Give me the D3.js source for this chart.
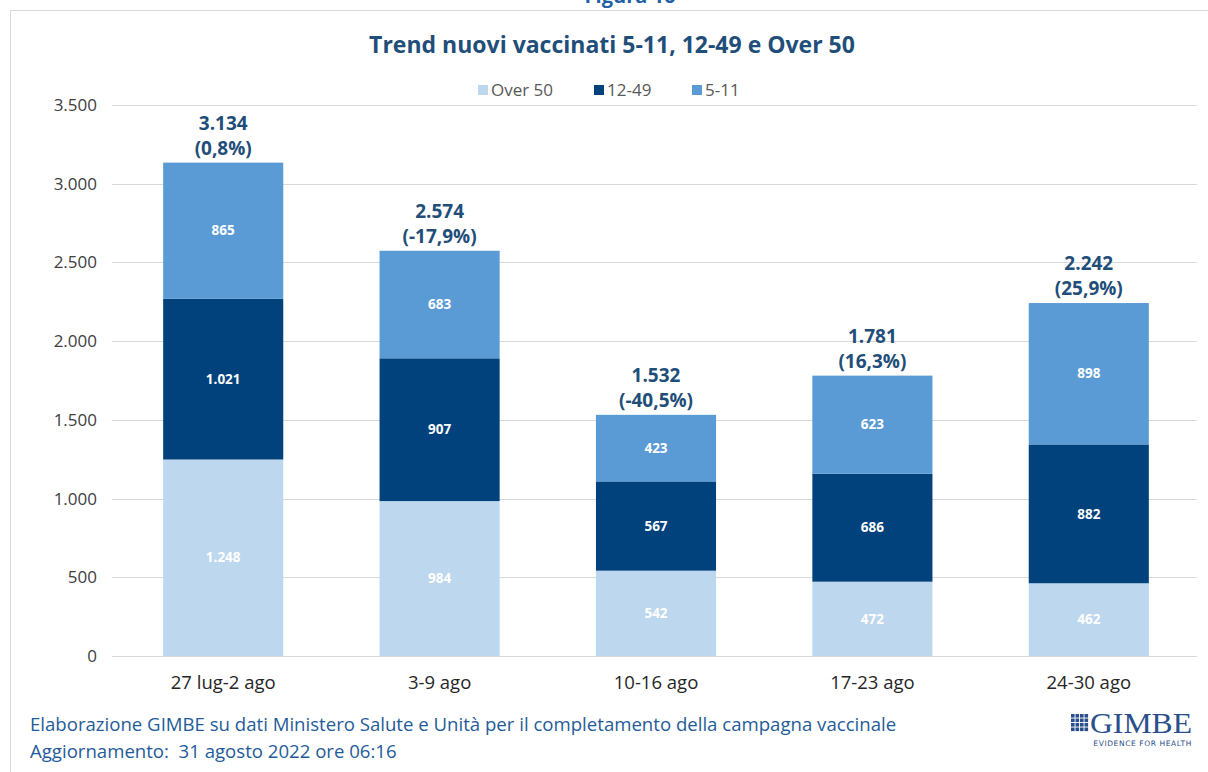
<!DOCTYPE html>
<html>
<head>
<meta charset="utf-8">
<script src="https://cdn.jsdelivr.net/npm/d3@7"></script>
<style>
  body { margin: 0; background: #fff; }
  svg { display: block; }
</style>
</head>
<body>
<svg id="chart" width="1208" height="772"></svg>
<script>
var weeks = ["27 lug-2 ago", "3-9 ago", "10-16 ago", "17-23 ago", "24-30 ago"];
var over50 = [1248, 984, 542, 472, 462];
var age1249 = [1021, 907, 567, 686, 882];
var age511 = [865, 683, 423, 623, 898];
var totals = [3134, 2574, 1532, 1781, 2242];
var changes = ["(0,8%)", "(-17,9%)", "(-40,5%)", "(16,3%)", "(25,9%)"];
var seriesNames = ["Over 50", "12-49", "5-11"];
var yTicks = [0, 500, 1000, 1500, 2000, 2500, 3000, 3500];

var colors = {"Over 50": "#bdd7ee", "12-49": "#02427c", "5-11": "#5b9bd5"};
var fmt = d3.formatLocale({decimal: ",", thousands: ".", grouping: [3], currency: ["", "€"]}).format(",d");

var svg = d3.select("#chart");
var margin = {top: 105, right: 11, bottom: 116, left: 115};
var width = 1208 - margin.left - margin.right;
var height = 772 - margin.top - margin.bottom;

// frame of the slide
svg.append("line").attr("x1", 10).attr("x2", 1208).attr("y1", 10.5).attr("y2", 10.5)
  .attr("stroke", "#d9d9d9");
svg.append("line").attr("x1", 10.5).attr("x2", 10.5).attr("y1", 10).attr("y2", 772)
  .attr("stroke", "#d9d9d9");

svg.append("text").attr("x", 630).attr("y", 3).attr("text-anchor", "middle")
  .style("font-family", "Open Sans").style("font-weight", "bold").style("font-size", "20px")
  .style("fill", "#1f5fa5").text("Figura 16");

svg.append("text").attr("x", 612).attr("y", 53).attr("text-anchor", "middle")
  .style("font-family", "Open Sans").style("font-weight", "bold").style("font-size", "23px")
  .style("fill", "#1f4e79").text("Trend nuovi vaccinati 5-11, 12-49 e Over 50");

var rows = weeks.map(function(w, i) {
  return {week: w, "Over 50": over50[i], "12-49": age1249[i], "5-11": age511[i], total: totals[i], change: changes[i]};
});

var x = d3.scaleBand().domain(weeks).range([0, width]).paddingInner(0.445).paddingOuter(0.2225);
var y = d3.scaleLinear().domain([0, 3500]).range([height, 0]);

var g = svg.append("g").attr("transform", "translate(" + margin.left + "," + margin.top + ")");

// gridlines
g.append("g").selectAll("line").data(yTicks).enter().append("line")
  .attr("x1", -3).attr("x2", width)
  .attr("y1", d => Math.round(y(d)) + 0.5).attr("y2", d => Math.round(y(d)) + 0.5)
  .attr("stroke", "#d9d9d9").attr("stroke-width", 1);

var yAxis = d3.axisLeft(y).tickValues(yTicks).tickFormat(fmt).tickSize(0).tickPadding(18);
g.append("g").call(yAxis)
  .call(a => a.select(".domain").remove())
  .selectAll("text")
  .style("font-family", "Open Sans").style("font-size", "17px").style("fill", "#404040");

var xAxis = d3.axisBottom(x).tickSize(0).tickPadding(20);
g.append("g").attr("transform", "translate(0," + height + ")").call(xAxis)
  .call(a => a.select(".domain").remove())
  .selectAll("text")
  .style("font-family", "Open Sans").style("font-size", "18.5px").style("fill", "#262626");

var stack = d3.stack().keys(seriesNames);
var layers = stack(rows);

var layerG = g.selectAll(".layer").data(layers).enter().append("g")
  .attr("class", "layer").attr("fill", d => colors[d.key]);

layerG.selectAll("rect").data(d => d).enter().append("rect")
  .attr("x", d => x(d.data.week))
  .attr("width", x.bandwidth())
  .attr("y", d => y(d[1]))
  .attr("height", d => y(d[0]) - y(d[1]));

layerG.selectAll("text").data(d => d).enter().append("text")
  .attr("x", d => x(d.data.week) + x.bandwidth() / 2)
  .attr("y", d => (y(d[0]) + y(d[1])) / 2)
  .attr("dy", "0.35em")
  .attr("text-anchor", "middle")
  .style("font-family", "Open Sans").style("font-weight", "bold").style("font-size", "13.5px")
  .style("fill", "#fff")
  .text(d => fmt(d[1] - d[0]));

// totals and percent change
var tot = g.append("g").selectAll("g").data(rows).enter().append("g")
  .attr("transform", d => "translate(" + (x(d.week) + x.bandwidth() / 2) + "," + y(d.total) + ")");
tot.append("text").attr("y", -33).attr("text-anchor", "middle")
  .style("font-family", "Open Sans").style("font-weight", "bold").style("font-size", "19px")
  .style("fill", "#1f4e79").text(d => fmt(d.total));
tot.append("text").attr("y", -8).attr("text-anchor", "middle")
  .style("font-family", "Open Sans").style("font-weight", "bold").style("font-size", "19px")
  .style("fill", "#1f4e79").text(d => d.change);

// legend
var legendX = [478, 594, 692];
var legend = svg.append("g").selectAll("g").data(seriesNames).enter().append("g")
  .attr("transform", (d, i) => "translate(" + legendX[i] + ",90)");
legend.append("rect").attr("x", 0).attr("y", -5).attr("width", 10).attr("height", 10)
  .attr("fill", d => colors[d]);
legend.append("text").attr("x", 13).attr("dy", "0.35em")
  .style("font-family", "Open Sans").style("font-size", "17px").style("fill", "#595959")
  .text(d => d);

// footer
svg.append("text").attr("x", 30).attr("y", 731)
  .style("font-family", "Open Sans").style("font-size", "18.6px").style("fill", "#1f5c99")
  .text("Elaborazione GIMBE su dati Ministero Salute e Unità per il completamento della campagna vaccinale");
svg.append("text").attr("x", 30).attr("y", 758)
  .style("font-family", "Open Sans").style("font-size", "18.6px").style("fill", "#1f5c99")
  .style("white-space", "pre")
  .text("Aggiornamento:  31 agosto 2022 ore 06:16");

// GIMBE logo
var logo = svg.append("g").attr("transform", "translate(1071,714)");
var cells = d3.range(16);
logo.selectAll("rect").data(cells).enter().append("rect")
  .attr("x", d => (d % 4) * 4.5).attr("y", d => Math.floor(d / 4) * 4.5)
  .attr("width", 3.6).attr("height", 3.6).attr("fill", "#2a4f8a");
logo.append("text").attr("x", 19).attr("y", 19)
  .style("font-family", "Liberation Serif").style("font-size", "29px").style("fill", "#2a4f8a")
  .attr("textLength", 102).attr("lengthAdjust", "spacingAndGlyphs")
  .text("GIMBE");
logo.append("text").attr("x", 121).attr("y", 32).attr("text-anchor", "end")
  .style("font-family", "DejaVu Sans").style("font-size", "7.5px").style("fill", "#2a4f8a")
  .style("letter-spacing", "0.6px")
  .text("EVIDENCE FOR HEALTH");
</script>
</body>
</html>
